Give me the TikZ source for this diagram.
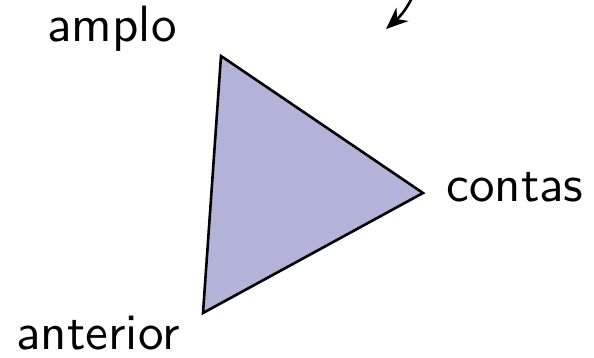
\documentclass[tikz,border=0pt]{standalone}
\usetikzlibrary{arrows.meta}
\definecolor{trifill}{RGB}{179,179,217}
\begin{document}
\begin{tikzpicture}[x=1pt,y=-1pt,
  lbl/.style={font=\sffamily, scale=5.1, transform shape, inner sep=0pt, anchor=base},
  edge/.style={draw=black, line width=2.6pt, line join=miter}]
\useasboundingbox (0,0) rectangle (594,358);
\coordinate (A) at (221,56);
\coordinate (C) at (423,193);
\coordinate (B) at (203,313);
\fill[trifill] (A) -- (C) -- (B) -- cycle;
\draw[edge] (A) -- (C) -- (B) -- cycle;
\node[lbl] (amplo) at (112,42) {amplo};
\node[lbl] (contas) at (515,202) {contas};
\node[lbl] (anterior) at (98,349) {anterior};
\coordinate (s) at (420,-20);
\coordinate (t) at (386,29);
\draw[line width=2.6pt, -{Stealth[length=22pt,width=18pt]}] (s) .. controls (412,0) and (405,12) .. (t);
\end{tikzpicture}
\end{document}
